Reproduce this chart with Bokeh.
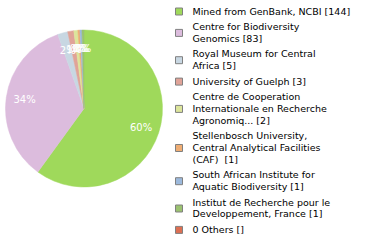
import math
import textwrap
from bokeh.plotting import figure
from bokeh.models import Range1d, ColumnDataSource
from bokeh.core.properties import value
from bokeh.embed import file_html
from bokeh.resources import INLINE

# ---- data ----
categories = [
    "Mined from GenBank, NCBI",
    "Centre for Biodiversity Genomics",
    "Royal Museum for Central Africa",
    "University of Guelph",
    "Centre de Cooperation Internationale en Recherche Agronomiq...",
    "Stellenbosch University, Central Analytical Facilities (CAF) ",
    "South African Institute for Aquatic Biodiversity",
    "Institut de Recherche pour le Developpement, France",
]
counts = [144, 83, 5, 3, 2, 1, 1, 1]
others_label = "0 Others []"
colors = ["#9fd95b", "#dcbcdd", "#c8d7e2", "#e0a398", "#dce59b",
          "#efad73", "#9cb9dc", "#9bc270", "#dd6f52"]

W, H = 380, 240
CX, CY, R = 83.5, H - 108, 78.5
LR = 60

p = figure(width=W, height=H, output_backend="svg", toolbar_location=None,
           x_range=Range1d(0, W), y_range=Range1d(0, H),
           x_axis_type=None, y_axis_type=None, min_border=0,
           outline_line_color=None, background_fill_color="white")
p.grid.visible = False

total = sum(counts)
starts, ends, lx, ly, labels = [], [], [], [], []
cum = 0.0
for c in counts:
    a0 = cum / total
    cum += c
    a1 = cum / total
    # clockwise from 12 o'clock
    starts.append(math.pi / 2 - 2 * math.pi * a1)
    ends.append(math.pi / 2 - 2 * math.pi * a0)
    mid = 2 * math.pi * (a0 + a1) / 2
    lx.append(CX + LR * math.sin(mid))
    ly.append(CY + LR * math.cos(mid))
    labels.append("%d%%" % math.floor(c / total * 100))

src = ColumnDataSource(dict(start=starts, end=ends, color=colors[:len(counts)]))
p.wedge(x=CX, y=CY, radius=R, start_angle="start", end_angle="end",
        direction="anticlock", fill_color="color", line_color="color",
        line_width=0.5, source=src)

p.text(x=lx, y=ly, text=labels, text_color="white", text_align="center",
       text_baseline="middle", text_font=value("DejaVu Sans"),
       text_font_size="10px")

# ---- legend ----
leg_items = ["%s [%d]" % (n, c) for n, c in zip(categories, counts)] + [others_label]
LH, GAP, Y0 = 11.8, 3.7, 10.5
tx, ty, tt = [], [], []
sx, sy = [], []
y = Y0
for item in leg_items:
    lines = textwrap.wrap(item, width=30, drop_whitespace=True)
    ys = []
    for ln in lines:
        tx.append(192)
        ty.append(H - y)
        tt.append(ln.replace("  ", " \u00a0"))
        ys.append(y)
        y += LH
    y += GAP
    sx.append(178.5)
    sy.append(H - (ys[0] + ys[-1]) / 2 - 0.5)

p.rect(x=sx, y=sy, width=7, height=7, fill_color=colors[:len(sx)],
       line_color="#808080", line_width=1)
p.text(x=tx, y=ty, text=tt, text_color="black", text_align="left",
       text_baseline="middle", text_font=value("DejaVu Sans"),
       text_font_size="9.5px")

open("out.html", "w").write(file_html(p, INLINE))
